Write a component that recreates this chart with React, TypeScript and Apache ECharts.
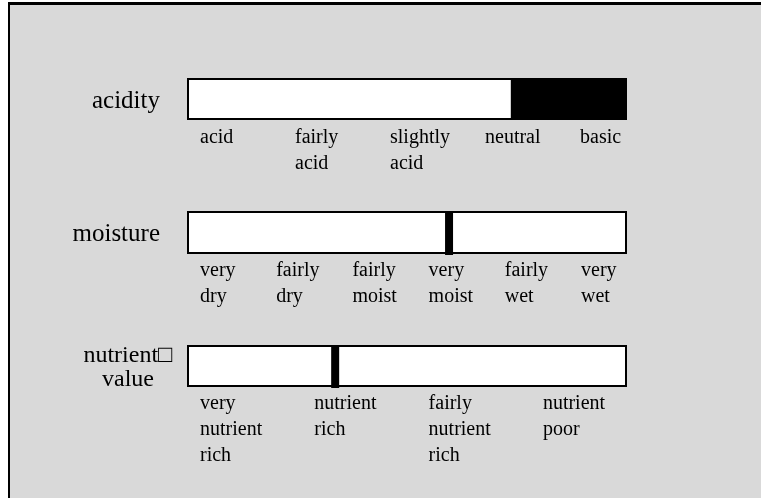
import React, { useEffect, useRef } from "react";
import * as echarts from "echarts";

const rowNames = ["acidity", "moisture", "nutrient\u25A1\nvalue"];
const acidityLabels = ["acid", "fairly\nacid", "slightly\nacid", "neutral", "basic"];
const moistureLabels = ["very\ndry", "fairly\ndry", "fairly\nmoist", "very\nmoist", "fairly\nwet", "very\nwet"];
const nutrientLabels = ["very\nnutrient\nrich", "nutrient\nrich", "fairly\nnutrient\nrich", "nutrient\npoor"];
// acidity: white part up to this value, black ("basic" side) after
const acidityWhite = [73.7];
const acidityBlack = [26.3];
const moistureValue = [59.6];
const nutrientValue = [33.6];

const FONT = "Liberation Serif";

export default function App() {
  const ref = useRef<HTMLDivElement>(null);
  useEffect(() => {
    if (!ref.current) return;
    const chart = echarts.init(ref.current, undefined, { renderer: "svg" });

    const barGrids = [
      { top: 79, height: 40 },
      { top: 212, height: 41 },
      { top: 346, height: 40 },
    ];
    const labelSets = [acidityLabels, moistureLabels, nutrientLabels];
    const spacing = [95, 76.2, 114.3];
    const labelTops = [120, 253, 386];

    const grid: any[] = [];
    const xAxis: any[] = [];
    const yAxis: any[] = [];

    barGrids.forEach((g, i) => {
      grid.push({
        left: 188,
        width: 438,
        top: g.top,
        height: g.height,
        show: true,
        backgroundColor: "#ffffff",
        borderColor: "#000000",
        borderWidth: 2,
        z: 3,
      });
      xAxis.push({ type: "value", gridIndex: i, min: 0, max: 100, show: false });
      yAxis.push({
        type: "category",
        gridIndex: i,
        data: [rowNames[i]],
        axisLine: { show: false },
        axisTick: { show: false },
        axisLabel: {
          margin: i === 2 ? 60 : 28,
          align: i === 2 ? "center" : "right",
          fontFamily: FONT,
          fontSize: i === 2 ? 24 : 25,
          color: "#000",
          lineHeight: 24,
          padding: i === 2 ? [6, 0, 0, 0] : 0,
        },
      });
    });

    labelSets.forEach((labels, i) => {
      const gi = 3 + i;
      grid.push({
        left: 200,
        width: labels.length * spacing[i],
        top: labelTops[i],
        height: 1,
      });
      xAxis.push({
        type: "value",
        gridIndex: gi,
        min: 0,
        max: labels.length,
        interval: 1,
        axisLine: { show: false },
        axisTick: { show: false },
        splitLine: { show: false },
        axisLabel: {
          align: "left",
          margin: 2,
          fontFamily: FONT,
          fontSize: 20,
          lineHeight: 26,
          color: "#000",
          showMaxLabel: false,
          formatter: (v: number) => labels[v] ?? "",
        },
      });
      yAxis.push({ type: "value", gridIndex: gi, show: false });
    });

    const option: any = {
      animation: false,
      graphic: [
        {
          type: "rect",
          z: -10,
          silent: true,
          shape: { x: 8, y: 2, width: 800, height: 600 },
          style: { fill: "#000" },
        },
        {
          type: "rect",
          z: -9,
          silent: true,
          shape: { x: 10, y: 5, width: 800, height: 600 },
          style: { fill: "#d9d9d9" },
        },
      ],
      grid,
      xAxis,
      yAxis,
      series: [
        {
          type: "bar",
          xAxisIndex: 0,
          yAxisIndex: 0,
          stack: "a",
          barWidth: "100%",
          data: acidityWhite,
          itemStyle: { color: "rgba(0,0,0,0)" },
          z: 4,
        },
        {
          type: "bar",
          xAxisIndex: 0,
          yAxisIndex: 0,
          stack: "a",
          barWidth: "100%",
          data: acidityBlack,
          itemStyle: { color: "#000" },
          z: 4,
        },
        {
          type: "scatter",
          xAxisIndex: 1,
          yAxisIndex: 1,
          symbol: "rect",
          symbolSize: [8, 43],
          symbolOffset: [0, 1],
          data: moistureValue.map((v) => [v, rowNames[1]]),
          itemStyle: { color: "#000", opacity: 1 },
          z: 5,
        },
        {
          type: "scatter",
          xAxisIndex: 2,
          yAxisIndex: 2,
          symbol: "rect",
          symbolSize: [8, 42],
          symbolOffset: [0, 1],
          data: nutrientValue.map((v) => [v, rowNames[2]]),
          itemStyle: { color: "#000", opacity: 1 },
          z: 5,
        },
      ],
    };
    chart.setOption(option);
    return () => chart.dispose();
  }, []);

  return (
    <div
      ref={ref}
      style={{ position: "fixed", left: 0, top: 0, width: 761, height: 498 }}
    />
  );
}
